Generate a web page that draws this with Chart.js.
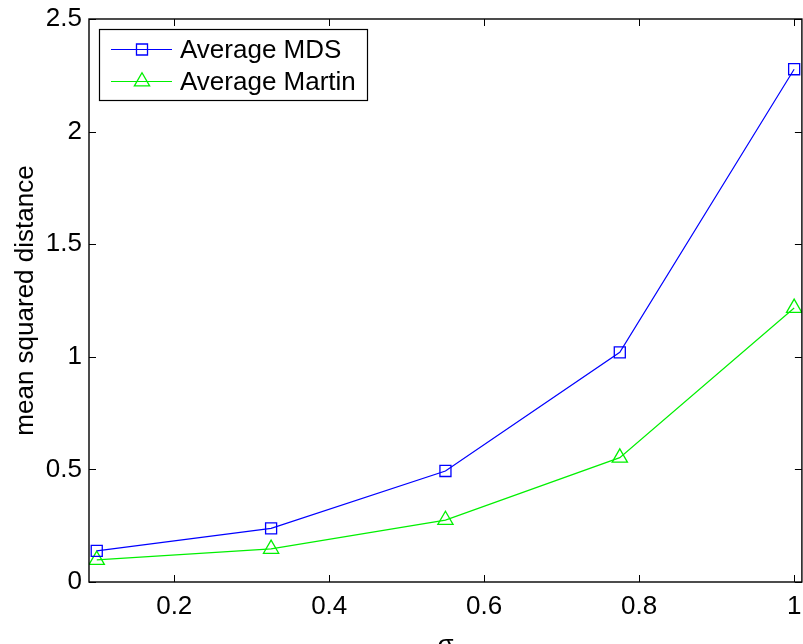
<!DOCTYPE html>
<html>
<head>
<meta charset="utf-8">
<script src="https://cdn.jsdelivr.net/npm/chart.js@4/dist/chart.umd.min.js"></script>
<style>
  html, body { margin: 0; padding: 0; overflow: hidden; background: #fff; }
</style>
</head>
<body>
<canvas id="chart" width="812" height="644"></canvas>
<script>
// data
var sigmas = [0.1, 0.325, 0.55, 0.775, 1.0];
var mdsValues = [0.138, 0.238, 0.493, 1.02, 2.277];
var martinValues = [0.098, 0.147, 0.275, 0.552, 1.217];
var seriesNames = ['Average MDS', 'Average Martin'];
var xTicks = [0.2, 0.4, 0.6, 0.8, 1];
var xTickLabels = ['0.2', '0.4', '0.6', '0.8', '1'];
var yTicks = [0, 0.5, 1, 1.5, 2, 2.5];
var yTickLabels = ['0', '0.5', '1', '1.5', '2', '2.5'];

var FONT = '"Liberation Sans", Arial, Helvetica, sans-serif';

function toPoints(xs, ys) {
	return xs.map(function(x, i) { return { x: x, y: ys[i] }; });
}

function drawMarker(ctx, style, x, y, r) {
	ctx.beginPath();
	if (style === 'rect') {
		var s = Math.SQRT1_2 * r;
		ctx.rect(x - s, y - s, 2 * s, 2 * s);
	} else {
		// triangle, same geometry as chart.js
		ctx.moveTo(x, y - r);
		ctx.lineTo(x + r * Math.sin(Math.PI / 3), y + r * 0.5);
		ctx.lineTo(x - r * Math.sin(Math.PI / 3), y + r * 0.5);
		ctx.closePath();
	}
	ctx.stroke();
}

// axes box with inward ticks, legend and sigma label
var matlabFrame = {
	id: 'matlabFrame',
	afterDraw: function(chart) {
		var ctx = chart.ctx;
		var a = chart.chartArea;
		var xs = chart.scales.x, ys = chart.scales.y;
		var tl = 7;
		ctx.save();
		ctx.strokeStyle = '#000';
		ctx.lineWidth = 1.4;
		ctx.strokeRect(a.left, a.top, a.right - a.left, a.bottom - a.top);
		ctx.lineWidth = 1;
		ctx.beginPath();
		xTicks.forEach(function(v) {
			var px = Math.round(xs.getPixelForValue(v)) + 0.5;
			ctx.moveTo(px, a.bottom); ctx.lineTo(px, a.bottom - tl);
			ctx.moveTo(px, a.top); ctx.lineTo(px, a.top + tl);
		});
		yTicks.forEach(function(v) {
			var py = Math.round(ys.getPixelForValue(v)) + 0.5;
			ctx.moveTo(a.left, py); ctx.lineTo(a.left + tl, py);
			ctx.moveTo(a.right, py); ctx.lineTo(a.right - tl, py);
		});
		ctx.stroke();

		// legend
		var lx = a.left + 10, ly = a.top + 10, lw = 268, lh = 71;
		ctx.fillStyle = '#fff';
		ctx.fillRect(lx, ly, lw, lh);
		ctx.lineWidth = 1.2;
		ctx.strokeStyle = '#000';
		ctx.strokeRect(lx + 0.5, ly + 0.5, lw, lh);
		ctx.font = '26px ' + FONT;
		ctx.textBaseline = 'middle';
		ctx.textAlign = 'left';
		chart.data.datasets.forEach(function(ds, i) {
			var ry = ly + 20.5 + i * 32;
			ctx.strokeStyle = ds.borderColor;
			ctx.lineWidth = 1;
			ctx.beginPath();
			ctx.moveTo(lx + 12, ry); ctx.lineTo(lx + 73, ry);
			ctx.stroke();
			ctx.lineWidth = 1.3;
			drawMarker(ctx, ds.pointStyle, lx + 43, ry, ds.pointRadius);
			ctx.fillStyle = '#000';
			ctx.fillText(ds.label, lx + 81, ry + 1);
		});

		// x axis label
		ctx.font = '26px ' + FONT;
		ctx.textAlign = 'center';
		ctx.textBaseline = 'alphabetic';
		ctx.fillText('\u03c3', (xs.getPixelForValue(0.55)), 653);
		ctx.restore();
	}
};

var chart = new Chart(document.getElementById('chart'), {
	type: 'line',
	data: {
		datasets: [{
			label: seriesNames[0],
			data: toPoints(sigmas, mdsValues),
			borderColor: '#0000ff',
			borderWidth: 1.2,
			pointStyle: 'rect',
			pointRadius: 7.8,
			pointBorderWidth: 1.3,
			pointBorderColor: '#0000ff',
			pointBackgroundColor: 'rgba(0,0,0,0)',
			tension: 0
		}, {
			label: seriesNames[1],
			data: toPoints(sigmas, martinValues),
			borderColor: '#00f000',
			borderWidth: 1.2,
			pointStyle: 'triangle',
			pointRadius: 8.8,
			pointBorderWidth: 1.3,
			pointBorderColor: '#00f000',
			pointBackgroundColor: 'rgba(0,0,0,0)',
			tension: 0
		}]
	},
	options: {
		responsive: false,
		animation: false,
		layout: { padding: { top: 19, left: 0, right: 8, bottom: 0 } },
		plugins: {
			legend: { display: false },
			tooltip: { enabled: false }
		},
		scales: {
			x: {
				type: 'linear',
				min: 0.09,
				max: 1.01,
				grid: { display: false, drawTicks: false },
				border: { display: false },
				afterBuildTicks: function(scale) {
					scale.ticks = xTicks.map(function(v) { return { value: v }; });
				},
				afterFit: function(scale) {
					scale.height = 62;
					scale.paddingLeft = 0;
					scale.paddingRight = 0;
				},
				ticks: {
					padding: 9,
					color: '#000',
					maxRotation: 0,
					font: { family: FONT, size: 26 },
					callback: function(v) { return xTickLabels[xTicks.indexOf(v)]; }
				}
			},
			y: {
				min: 0,
				max: 2.5,
				grid: { display: false, drawTicks: false },
				border: { display: false },
				afterBuildTicks: function(scale) {
					scale.ticks = yTicks.map(function(v) { return { value: v }; });
				},
				afterFit: function(scale) {
					scale.width = 89;
					scale.paddingTop = 0;
					scale.paddingBottom = 0;
				},
				ticks: {
					padding: 7,
					color: '#000',
					font: { family: FONT, size: 26 },
					callback: function(v) { return yTickLabels[yTicks.indexOf(v)]; }
				},
				title: {
					display: true,
					text: 'mean squared distance',
					color: '#000',
					font: { family: FONT, size: 26, lineHeight: 1.2 },
					padding: { top: 10, bottom: 0 }
				}
			}
		}
	},
	plugins: [matlabFrame]
});
</script>
</body>
</html>
